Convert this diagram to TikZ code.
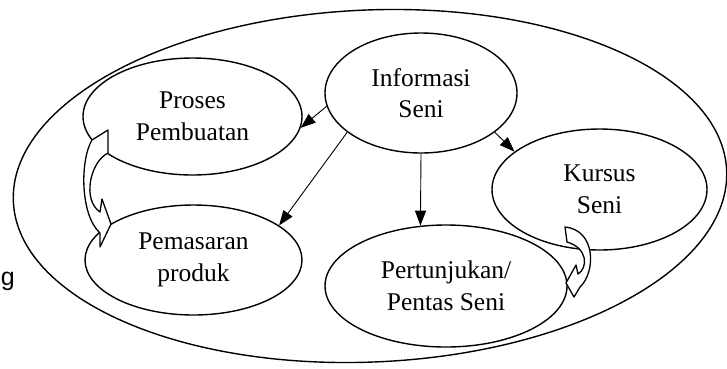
\documentclass[tikz,border=0pt]{standalone}
\usepackage{fontspec}
\setmainfont{Liberation Serif}
\newfontfamily\sansg{Liberation Sans}
\usetikzlibrary{shapes.geometric,arrows.meta}

\begin{document}
\begin{tikzpicture}[x=1pt, y=-1pt,
    every node/.style={font=\fontsize{25.5}{31.5}\selectfont},
    bubble/.style={draw, ellipse, line width=1.4pt, inner sep=0pt, align=center},
    link/.style={line width=0.9pt, -{Triangle[length=15pt,width=11pt]}},
    bendarrow/.style={draw, fill=white, line width=1.3pt, line join=round}]
    \useasboundingbox (0,0) rectangle (727,368);

    \node[bubble, minimum width=714pt, minimum height=352pt, rotate=2.5] (batas) at (370,186) {};
    \node[bubble, minimum width=192pt, minimum height=120pt] (informasi) at (421,93) {Informasi\\Seni};
    \node[bubble, minimum width=219pt, minimum height=117pt] (proses) at (192.5,116.5) {Proses\\Pembuatan};
    \node[bubble, minimum width=217pt, minimum height=110pt] (pemasaran) at (193.5,260) {Pemasaran\\produk};
    \node[bubble, minimum width=215pt, minimum height=121pt] (kursus) at (599.5,189.5) {Kursus\\Seni};
    \node[bubble, minimum width=242pt, minimum height=122pt] (pertunjukan) at (446,286) {Pertunjukan/\\Pentas Seni};
    \node[anchor=base east, inner sep=0pt, font=\sansg\fontsize{25}{30}\selectfont] (potongan) at (15,285) {g};

    \draw[link] (informasi.188) -- (proses.354);
    \draw[link] (informasi.208) -- (pemasaran.22);
    \draw[link] (informasi.south) -- (pertunjukan.113);
    \draw[link] (informasi.332) -- (kursus.156);

    \draw[bendarrow] (92,140) -- (108,130) -- (108,153) .. controls (90,162) and (82,200) .. (100,212)
        -- (102,199) -- (111,224) -- (100,247) -- (100,233) .. controls (80,215) and (80,160) .. cycle;
    \draw[bendarrow] (565,227) -- (567,242) .. controls (588,248) and (588,268) .. (578,274)
        -- (576,265) -- (566,283) -- (574,297) -- (580,287) .. controls (596,272) and (596,230) .. cycle;
\end{tikzpicture}
\end{document}
